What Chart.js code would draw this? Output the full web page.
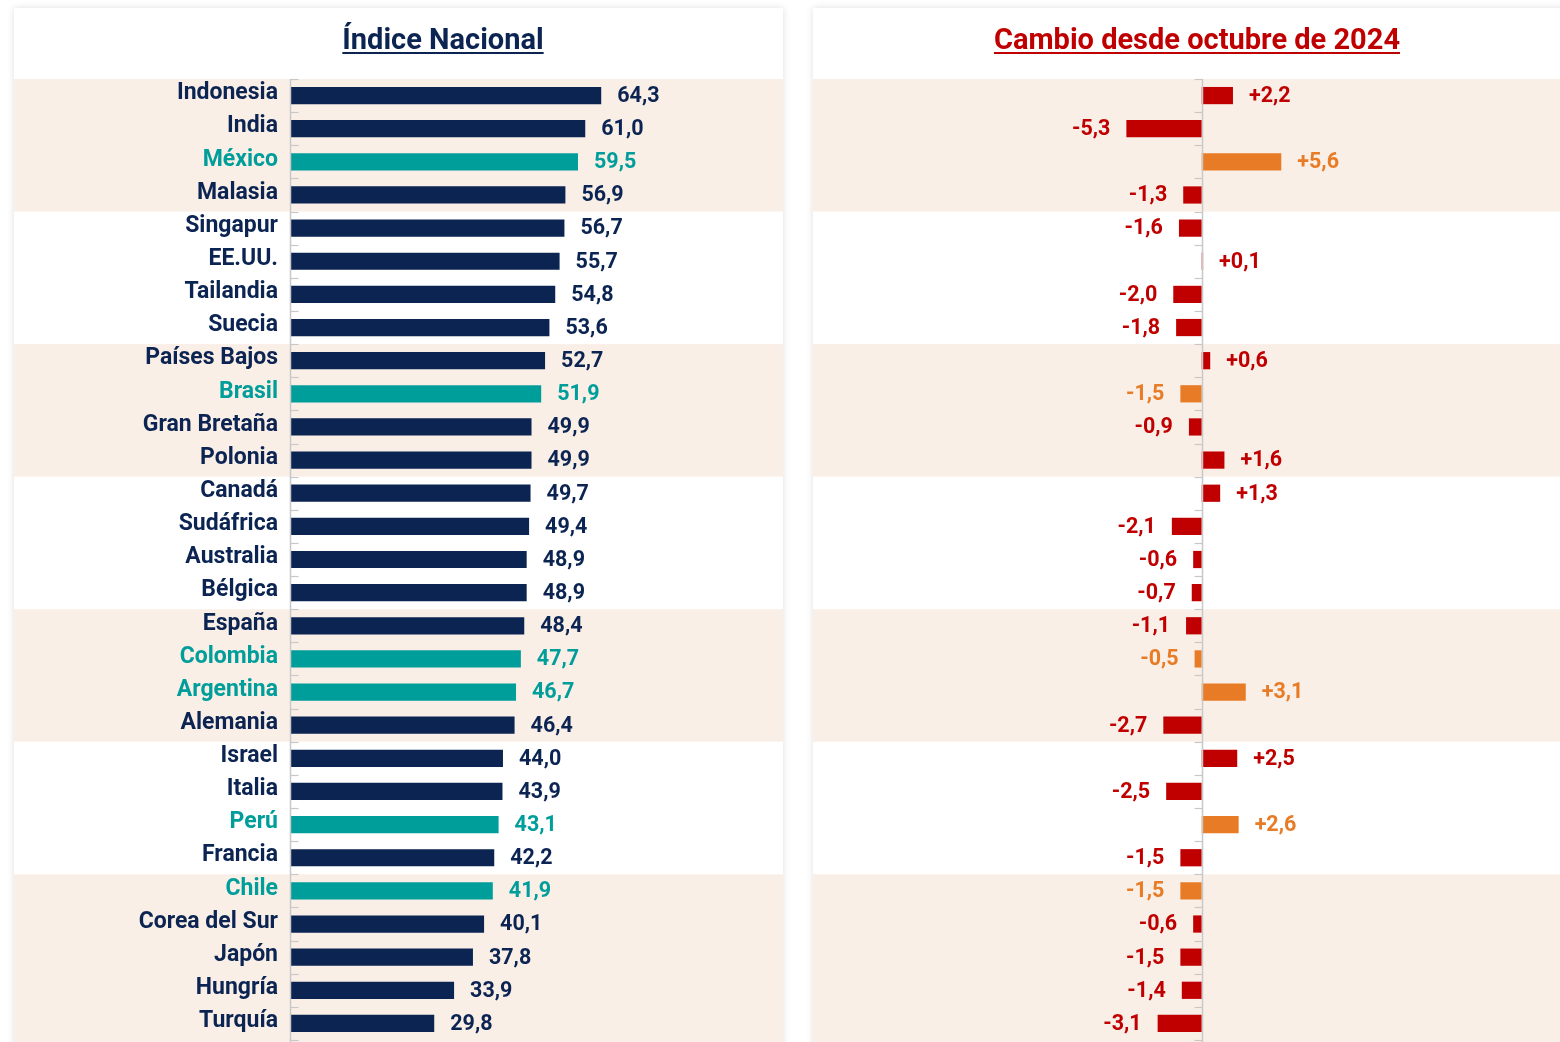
<!DOCTYPE html>
<html><head><meta charset="utf-8">
<script src="https://cdn.jsdelivr.net/npm/chart.js@4.4.1/dist/chart.umd.min.js"></script>
<style>
html,body{margin:0;padding:0;background:#fff;width:1560px;height:1042px;overflow:hidden;}
.card{position:absolute;background:#fff;box-shadow:0 0 7px rgba(0,0,0,0.13);}
canvas{position:absolute;top:0;}
.title{position:absolute;font-family:Roboto,"Liberation Sans",sans-serif;font-weight:bold;font-size:29px;line-height:34px;text-align:center;text-decoration:underline;text-decoration-thickness:2px;text-underline-offset:3px;top:22px;width:600px;}
</style></head>
<body>
<div class="card" style="left:14px;top:8px;width:769px;height:1100px;"></div>
<div class="card" style="left:813px;top:8px;width:760px;height:1100px;"></div>
<canvas id="left" width="769" height="1042" style="left:14px"></canvas>
<canvas id="right" width="747" height="1042" style="left:813px"></canvas>
<div class="title" style="left:143px;color:#0B2452;">Índice Nacional</div>
<div class="title" style="left:897px;color:#C00000;">Cambio desde octubre de 2024</div>
<script>
const countries = ['Indonesia','India','México','Malasia','Singapur','EE.UU.','Tailandia','Suecia','Países Bajos','Brasil','Gran Bretaña','Polonia','Canadá','Sudáfrica','Australia','Bélgica','España','Colombia','Argentina','Alemania','Israel','Italia','Perú','Francia','Chile','Corea del Sur','Japón','Hungría','Turquía'];
const indexValues = [64.3,61.0,59.5,56.9,56.7,55.7,54.8,53.6,52.7,51.9,49.9,49.9,49.7,49.4,48.9,48.9,48.4,47.7,46.7,46.4,44.0,43.9,43.1,42.2,41.9,40.1,37.8,33.9,29.8];
const changeValues = [2.2,-5.3,5.6,-1.3,-1.6,0.1,-2.0,-1.8,0.6,-1.5,-0.9,1.6,1.3,-2.1,-0.6,-0.7,-1.1,-0.5,3.1,-2.7,2.5,-2.5,2.6,-1.5,-1.5,-0.6,-1.5,-1.4,-3.1];
const highlighted = ['México','Brasil','Colombia','Argentina','Perú','Chile'];
const bandGroups = [[0,3],[8,11],[16,19],[24,28]];

const NAVY='#0B2452', TEAL='#009E9A', RED='#C00000', ORANGE='#E87B25', BAND='#FAEFE7', AXIS='#C8C8C8';
const FONT='Roboto,"Liberation Sans",sans-serif';
const isHi = i => highlighted.includes(countries[i]);
const fmt = v => v.toFixed(1).replace('.', ',');

function bandsPlugin(){
  return {id:'bands', beforeDraw(chart){
    const ctx=chart.ctx, y=chart.scales.y;
    const step = y.getPixelForValue(1)-y.getPixelForValue(0);
    ctx.save(); ctx.fillStyle=BAND;
    bandGroups.forEach(([a,b])=>{
      const t=y.getPixelForValue(a)-step/2;
      const bt = (b===countries.length-1) ? chart.height : y.getPixelForValue(b)+step/2;
      ctx.fillRect(0,t,chart.width,bt-t);
    });
    ctx.restore();
  }};
}
function axisPlugin(dir){
  return {id:'axisLine', afterDatasetsDraw(chart){
    const ctx=chart.ctx, x=chart.scales.x, y=chart.scales.y;
    const x0=Math.round(x.getPixelForValue(0))+0.5;
    const step = y.getPixelForValue(1)-y.getPixelForValue(0);
    ctx.save(); ctx.strokeStyle=AXIS; ctx.lineWidth=1.5;
    ctx.beginPath(); ctx.moveTo(x0,chart.chartArea.top); ctx.lineTo(x0,chart.height); ctx.stroke();
    ctx.lineWidth=1.2;
    for(let i=0;i<=countries.length;i++){
      const yy=Math.round(y.getPixelForValue(i)-step/2)+0.5;
      ctx.beginPath(); ctx.moveTo(x0,yy); ctx.lineTo(x0+dir*8,yy); ctx.stroke();
    }
    ctx.restore();
  }};
}
function labelsPlugin(colorFn, textFn){
  return {id:'vlabels', afterDatasetsDraw(chart){
    const ctx=chart.ctx, meta=chart.getDatasetMeta(0), data=chart.data.datasets[0].data;
    ctx.save(); ctx.font='bold 21.5px '+FONT; ctx.textBaseline='middle';
    meta.data.forEach((el,i)=>{
      const v=data[i]; ctx.fillStyle=colorFn(i);
      if(v>=0){ctx.textAlign='left'; ctx.fillText(textFn(v), el.x+16, el.y+1);}
      else {ctx.textAlign='right'; ctx.fillText(textFn(v), el.x-16, el.y+1);}
    });
    ctx.restore();
  }};
}
const fitY = w => s => { if(w!==null) s.width=w; s.paddingTop=0; s.paddingBottom=0; };

new Chart(document.getElementById('left'), {
  type:'bar',
  data:{labels:countries, datasets:[{data:indexValues,
    backgroundColor:indexValues.map((v,i)=>isHi(i)?TEAL:NAVY),
    borderWidth:0, barPercentage:0.52, categoryPercentage:1.0}]},
  options:{indexAxis:'y', responsive:false, animation:false, devicePixelRatio:1,
    layout:{padding:{top:79,bottom:2,left:0,right:9}},
    plugins:{legend:{display:false},tooltip:{enabled:false}},
    scales:{
      x:{display:false,min:0,max:100},
      y:{grid:{display:false,drawTicks:false},border:{display:false},
        afterFit:fitY(276),
        ticks:{padding:12,labelOffset:-2,color:c=>isHi(c.index)?TEAL:NAVY,font:{family:FONT,size:23,weight:'bold'}}}
    }},
  plugins:[bandsPlugin(),axisPlugin(1),labelsPlugin(i=>isHi(i)?TEAL:NAVY, fmt)]
});

new Chart(document.getElementById('right'), {
  type:'bar',
  data:{labels:countries, datasets:[{data:changeValues,
    backgroundColor:changeValues.map((v,i)=>isHi(i)?ORANGE:RED),
    borderWidth:0, barPercentage:0.52, categoryPercentage:1.0}]},
  options:{indexAxis:'y', responsive:false, animation:false, devicePixelRatio:1,
    layout:{padding:{top:79,bottom:2,left:0,right:3}},
    plugins:{legend:{display:false},tooltip:{enabled:false}},
    scales:{
      x:{display:false,min:-27.35,max:25},
      y:{display:false, afterFit:fitY(null)}
    }},
  plugins:[bandsPlugin(),axisPlugin(-1),labelsPlugin(i=>isHi(i)?ORANGE:RED, v=>(v>0?'+':'')+fmt(v))]
});
</script>
</body></html>
